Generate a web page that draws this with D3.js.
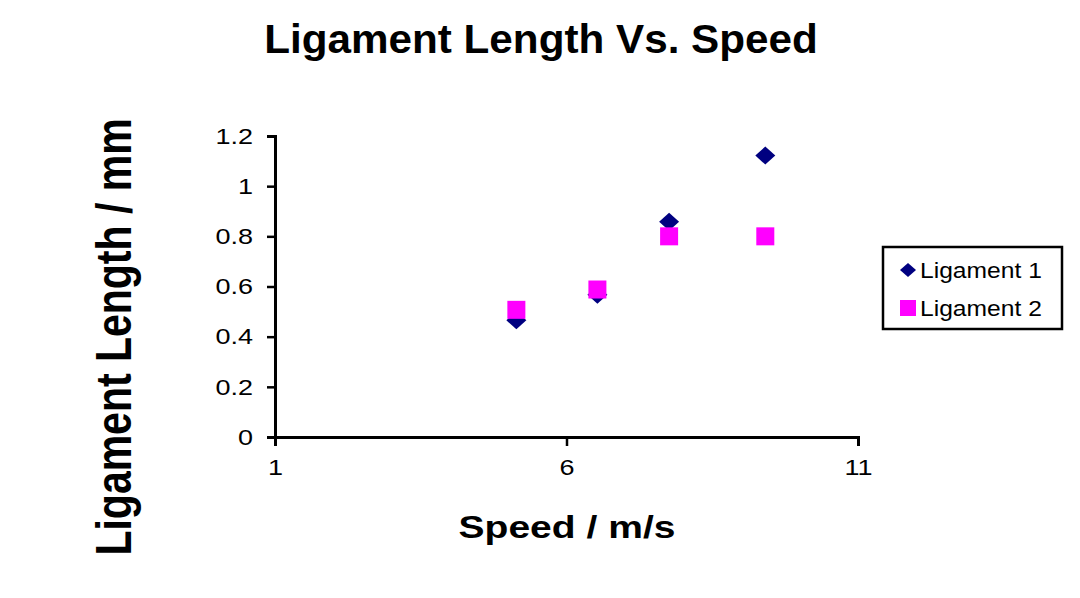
<!DOCTYPE html>
<html>
<head>
<meta charset="utf-8">
<script src="https://cdn.jsdelivr.net/npm/d3@7"></script>
<style>
  body { margin: 0; background: #fff; }
  text { font-family: "Liberation Sans", Arial, sans-serif; }
</style>
</head>
<body>
<div id="chart"></div>
<script>
// Data
var speeds = [5.14, 6.53, 7.76, 9.41];
var ligament1 = [0.465, 0.567, 0.858, 1.122];
var ligament2 = [0.507, 0.588, 0.80, 0.80];
var xTicks = [1, 6, 11];
var yTicks = [0, 0.2, 0.4, 0.6, 0.8, 1, 1.2];
var seriesNames = ["Ligament 1", "Ligament 2"];

let margin = {top: 136, right: 222, bottom: 161, left: 275},
    width = 1080 - margin.left - margin.right,
    height = 598 - margin.top - margin.bottom;

let svg = d3.select("#chart").append("svg")
    .attr("width", 1080)
    .attr("height", 598);

let g = svg.append("g")
    .attr("transform", "translate(" + margin.left + "," + margin.top + ")");

let x = d3.scaleLinear().domain([1, 11]).range([0, width]);
let y = d3.scaleLinear().domain([0, 1.2]).range([height, 0]);

// the source picture is a bit wider than tall, so text gets stretched sideways
let tickStretch = 1.2;

// AXIS
let xAxis = d3.axisBottom(x).tickValues(xTicks).tickSize(9).tickPadding(13)
    .tickFormat(d3.format("d"));
let yAxis = d3.axisLeft(y).tickValues(yTicks).tickSize(8)
    .tickFormat(d => String(d));

let xg = g.append("g")
    .attr("transform", "translate(0," + height + ")")
    .call(xAxis);
let yg = g.append("g").call(yAxis);

[xg, yg].forEach(a => {
    a.select(".domain").attr("stroke", "#000").attr("stroke-width", 3);
    a.selectAll(".tick line").attr("stroke", "#000").attr("stroke-width", 2.5);
    a.selectAll(".tick text").attr("fill", "#000").attr("font-size", 22.5)
        .attr("transform", "scale(" + tickStretch + ",1)");
});
yg.selectAll(".tick text").attr("x", -22 / tickStretch);

// ---- POINTS ----
let l1 = speeds.map((s, i) => ({x: s, y: ligament1[i]}));
let l2 = speeds.map((s, i) => ({x: s, y: ligament2[i]}));

g.selectAll(".dia")
    .data(l1)
    .enter()
    .append("path")
    .attr("class", "dia")
    .attr("d", "M0,-9 L10,0 L0,9 L-10,0 Z")
    .attr("fill", "#000080")
    .attr("transform", d => "translate(" + x(d.x) + "," + y(d.y) + ")");

g.selectAll(".sq")
    .data(l2)
    .enter()
    .append("rect")
    .attr("class", "sq")
    .attr("x", d => x(d.x) - 9)
    .attr("y", d => y(d.y) - 9)
    .attr("width", 18)
    .attr("height", 18)
    .attr("fill", "#ff00ff");

// ---- TITLES ----
svg.append("text")
    .attr("transform", "translate(541,53) scale(1.03,1)")
    .attr("text-anchor", "middle")
    .attr("font-size", 41).attr("font-weight", "bold")
    .text("Ligament Length Vs. Speed");

svg.append("text")
    .attr("transform", "translate(567,538) scale(1.22,1)")
    .attr("text-anchor", "middle")
    .attr("font-size", 32).attr("font-weight", "bold")
    .text("Speed / m/s");

svg.append("text")
    .attr("transform", "translate(131,337) rotate(-90) scale(1,1.2)")
    .attr("text-anchor", "middle")
    .attr("font-size", 41).attr("font-weight", "bold")
    .text("Ligament Length / mm");

// ---- LEGEND ----
let legend = svg.append("g").attr("transform", "translate(883,247)");
legend.append("rect")
    .attr("width", 179).attr("height", 82)
    .attr("fill", "#fff").attr("stroke", "#000").attr("stroke-width", 2.5);

seriesNames.forEach((name, i) => {
    let row = legend.append("g").attr("transform", "translate(0," + (23 + i * 38) + ")");
    if (i === 0) {
        row.append("path").attr("d", "M0,-7 L8,0 L0,7 L-8,0 Z")
            .attr("transform", "translate(25,0)")
            .attr("fill", "#000080");
    } else {
        row.append("rect").attr("x", 17).attr("y", -8).attr("width", 16).attr("height", 16)
            .attr("fill", "#ff00ff");
    }
    row.append("text")
        .attr("transform", "translate(37,8) scale(1.12,1)")
        .attr("font-size", 22)
        .text(name);
});
</script>
</body>
</html>
